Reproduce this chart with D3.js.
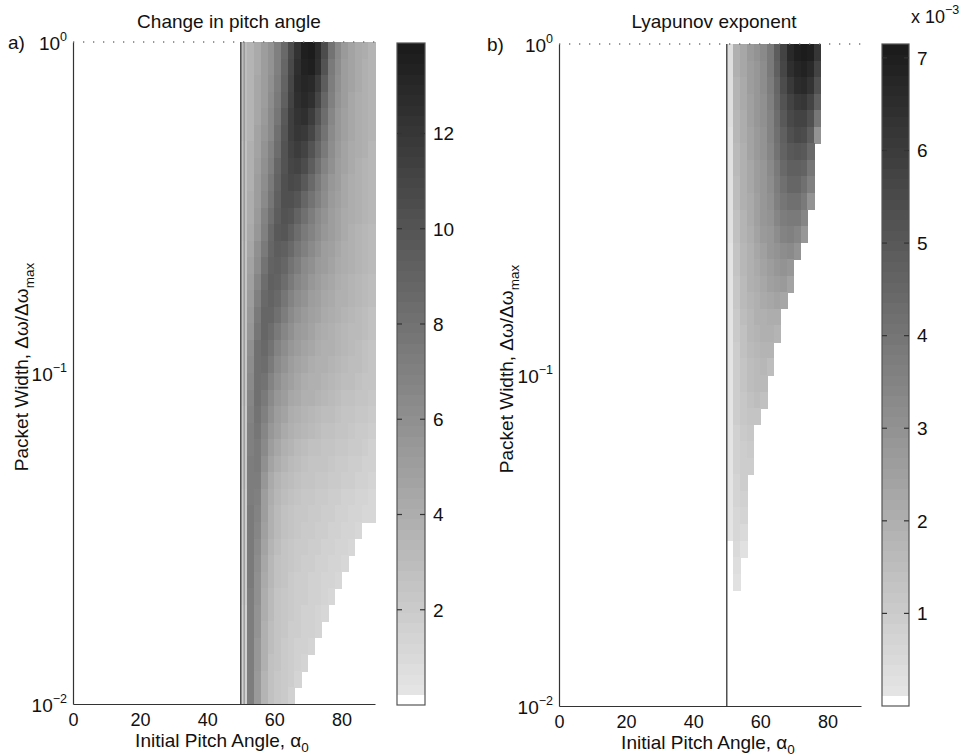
<!DOCTYPE html>
<html>
<head>
<meta charset="utf-8">
<script src="https://cdn.jsdelivr.net/npm/d3@7"></script>
<style>
  html, body { margin: 0; padding: 0; background: #fff; }
  svg { display: block; }
  text { font-family: "Liberation Sans", Arial, Helvetica, sans-serif; fill: #111; }
</style>
</head>
<body>
<svg id="fig" width="960" height="756"></svg>
<script>
// Bin edges: initial pitch angle (degrees) and packet width exponent (log10 of Δω/Δωmax)
const angleEdges = [50,52,54,56,58,60,62,64,66,68,70,72,74,76,78,80,82,84,86,88,90];
const widthExponents = [0,-0.05,-0.1,-0.15,-0.2,-0.25,-0.3,-0.35,-0.4,-0.45,-0.5,-0.55,-0.6,-0.65,-0.7,-0.75,
  -0.8,-0.85,-0.9,-0.95,-1.0,-1.05,-1.1,-1.15,-1.2,-1.25,-1.3,-1.35,-1.4,-1.45,-1.5,-1.55,-1.6,-1.65,-1.7,-1.75,
  -1.8,-1.85,-1.9,-1.95,-2.0];

// Change in pitch angle (degrees); rows run from Δω/Δωmax = 1 downward, columns follow angleEdges
const pitchChange = [
  [3.0,3.5,4.3,5.0,5.8,7.0,8.5,10.5,12.3,13.5,13.8,12.8,10.5,8.0,6.3,5.3,4.7,4.3,4.0,3.6],
  [3.0,3.5,4.3,5.0,5.8,7.1,8.7,10.7,12.4,13.4,13.6,12.4,10.0,7.6,6.1,5.2,4.6,4.2,3.9,3.6],
  [3.0,3.5,4.4,5.1,5.9,7.3,9.0,11.0,12.6,13.2,13.0,11.7,9.4,7.3,5.9,5.1,4.6,4.2,3.9,3.6],
  [2.9,3.5,4.4,5.2,6.1,7.5,9.3,11.2,12.5,12.9,12.4,11.0,8.9,7.0,5.8,5.0,4.5,4.1,3.8,3.5],
  [2.9,3.6,4.5,5.3,6.3,7.8,9.6,11.3,12.3,12.4,11.7,10.2,8.4,6.7,5.6,4.9,4.4,4.1,3.8,3.5],
  [2.9,3.6,4.6,5.5,6.5,8.1,9.9,11.3,12.0,11.9,11.0,9.5,7.9,6.5,5.5,4.8,4.4,4.0,3.7,3.5],
  [2.8,3.7,4.7,5.7,6.8,8.4,10.1,11.2,11.6,11.2,10.2,8.8,7.4,6.2,5.3,4.7,4.3,4.0,3.7,3.4],
  [2.8,3.8,4.9,5.9,7.1,8.7,10.2,11.0,11.1,10.5,9.4,8.1,6.9,5.9,5.1,4.6,4.2,3.9,3.6,3.4],
  [2.8,3.9,5.0,6.1,7.4,9.0,10.3,10.7,10.5,9.7,8.6,7.5,6.5,5.6,5.0,4.5,4.1,3.8,3.6,3.4],
  [2.7,4.0,5.2,6.4,7.8,9.3,10.3,10.4,9.8,8.9,7.9,7.0,6.1,5.4,4.8,4.4,4.0,3.8,3.5,3.3],
  [2.7,4.1,5.4,6.8,8.2,9.5,10.1,9.9,9.1,8.2,7.3,6.5,5.8,5.2,4.7,4.3,4.0,3.7,3.5,3.3],
  [2.7,4.2,5.6,7.1,8.6,9.6,9.8,9.3,8.4,7.5,6.8,6.1,5.5,5.0,4.6,4.2,3.9,3.6,3.4,3.2],
  [2.6,4.4,5.9,7.5,8.9,9.5,9.3,8.6,7.8,7.0,6.3,5.7,5.2,4.8,4.4,4.1,3.8,3.5,3.3,3.1],
  [2.6,4.6,6.2,7.9,9.1,9.3,8.8,8.0,7.2,6.5,5.9,5.4,5.0,4.6,4.3,4.0,3.7,3.5,3.3,3.1],
  [2.5,4.8,6.6,8.3,9.2,9.0,8.3,7.4,6.7,6.1,5.6,5.1,4.7,4.4,4.1,3.8,3.6,3.4,3.2,3.0],
  [2.5,5.0,7.0,8.6,9.1,8.6,7.7,6.9,6.2,5.7,5.2,4.8,4.5,4.2,3.9,3.7,3.5,3.3,3.1,2.9],
  [2.4,5.3,7.4,8.8,8.8,8.1,7.2,6.4,5.8,5.3,4.9,4.6,4.3,4.0,3.8,3.6,3.4,3.2,3.0,2.8],
  [2.4,5.6,7.8,8.8,8.4,7.5,6.6,5.9,5.4,5.0,4.6,4.3,4.1,3.8,3.6,3.4,3.2,3.1,2.9,2.7],
  [2.3,5.9,8.1,8.6,7.9,6.9,6.1,5.5,5.0,4.7,4.4,4.1,3.9,3.7,3.5,3.3,3.1,3.0,2.8,2.6],
  [2.3,6.2,8.2,8.3,7.4,6.4,5.7,5.1,4.7,4.4,4.1,3.9,3.7,3.5,3.3,3.2,3.0,2.9,2.7,2.5],
  [2.2,6.5,8.2,7.9,6.9,6.0,5.3,4.8,4.4,4.1,3.9,3.7,3.5,3.3,3.2,3.0,2.9,2.7,2.6,2.4],
  [2.2,6.7,8.1,7.5,6.4,5.6,5.0,4.5,4.2,3.9,3.7,3.5,3.3,3.1,3.0,2.8,2.7,2.5,2.4,2.2],
  [2.1,6.9,8.0,7.1,6.0,5.2,4.6,4.1,3.8,3.6,3.4,3.2,3.0,2.9,2.8,2.6,2.5,2.3,2.2,2.0],
  [2.1,7.0,7.8,6.7,5.5,4.8,4.2,3.8,3.5,3.3,3.1,2.9,2.8,2.7,2.5,2.4,2.3,2.1,2.0,1.9],
  [2.0,7.1,7.6,6.3,5.1,4.4,3.9,3.5,3.2,3.0,2.8,2.7,2.6,2.5,2.3,2.2,2.1,2.0,1.9,1.7],
  [2.0,7.2,7.4,5.9,4.7,4.0,3.5,3.2,2.9,2.7,2.6,2.5,2.4,2.3,2.1,2.0,1.9,1.8,1.7,1.6],
  [2.0,7.3,7.2,5.5,4.3,3.6,3.2,2.9,2.7,2.5,2.4,2.3,2.2,2.1,2.0,1.9,1.8,1.7,1.6,1.5],
  [1.9,7.3,7.0,5.2,4.1,3.4,3.0,2.7,2.5,2.3,2.2,2.1,2.0,1.9,1.8,1.7,1.6,1.5,1.4,1.3],
  [1.9,7.4,6.8,5.0,3.9,3.2,2.8,2.5,2.3,2.2,2.1,2.0,1.9,1.8,1.7,1.6,1.5,1.4,1.3,1.2],
  [1.9,7.4,6.6,4.8,3.7,3.1,2.7,2.4,2.2,2.1,2.0,1.9,1.8,1.7,1.6,1.5,1.4,1.3,0,0],
  [1.8,7.4,6.4,4.6,3.5,2.9,2.6,2.3,2.1,2.0,1.9,1.8,1.7,1.6,1.5,1.4,1.3,0,0,0],
  [1.8,7.4,6.2,4.4,3.4,2.8,2.5,2.2,2.0,1.9,1.8,1.7,1.6,1.5,1.4,1.3,0,0,0,0],
  [1.8,7.4,6.0,4.2,3.3,2.7,2.4,2.1,1.9,1.8,1.7,1.6,1.5,1.4,1.3,0,0,0,0,0],
  [1.8,7.3,5.9,4.1,3.2,2.6,2.3,2.0,1.9,1.8,1.7,1.6,1.5,1.3,0,0,0,0,0,0],
  [1.7,7.3,5.8,4.0,3.1,2.5,2.2,2.0,1.8,1.7,1.6,1.5,1.3,0,0,0,0,0,0,0],
  [1.7,7.3,5.7,3.9,3.0,2.5,2.2,1.9,1.8,1.7,1.6,1.4,0,0,0,0,0,0,0,0],
  [1.7,7.2,5.6,3.8,2.9,2.4,2.1,1.9,1.7,1.6,1.4,0,0,0,0,0,0,0,0,0],
  [1.7,7.2,5.5,3.7,2.8,2.4,2.1,1.8,1.7,1.4,0,0,0,0,0,0,0,0,0,0],
  [1.7,7.2,5.4,3.6,2.8,2.3,2.0,1.8,1.5,0,0,0,0,0,0,0,0,0,0,0],
  [1.7,7.2,5.4,3.6,2.7,2.3,2.0,1.6,0,0,0,0,0,0,0,0,0,0,0,0]
];

// Lyapunov exponent (×10⁻³), same bins; columns beyond the listed entries are zero
const lyapunov = [
  [0.4,1.9,2.3,2.7,3.0,3.3,3.9,4.9,5.8,6.7,7.0,7.1,7.0,6.2],
  [0.4,1.9,2.3,2.6,2.9,3.2,3.8,4.7,5.6,6.4,6.8,6.9,6.7,5.8],
  [0.4,1.8,2.2,2.6,2.9,3.2,3.7,4.5,5.4,6.1,6.5,6.6,6.3,5.3],
  [0.4,1.8,2.2,2.5,2.8,3.1,3.6,4.4,5.2,5.8,6.1,6.2,5.8,4.7],
  [0.4,1.7,2.1,2.5,2.8,3.1,3.5,4.3,5.0,5.5,5.8,5.8,5.3,4.0],
  [0.3,1.7,2.1,2.4,2.7,3.0,3.5,4.2,4.8,5.3,5.5,5.4,4.9,3.0],
  [0.3,1.6,2.0,2.4,2.7,3.0,3.4,4.1,4.6,5.0,5.1,5.0,4.4],
  [0.3,1.6,2.0,2.3,2.6,2.9,3.3,3.9,4.4,4.8,4.8,4.6,4.0],
  [0.3,1.5,1.9,2.3,2.6,2.9,3.2,3.7,4.2,4.5,4.5,4.2,3.6],
  [0.3,1.5,1.9,2.2,2.5,2.8,3.1,3.6,4.0,4.2,4.2,3.9,3.0],
  [0.3,1.4,1.8,2.2,2.5,2.8,3.0,3.4,3.7,3.9,3.8,3.4],
  [0.3,1.4,1.8,2.1,2.4,2.7,2.9,3.2,3.5,3.6,3.4,2.8],
  [0.2,1.3,1.7,2.0,2.3,2.5,2.8,3.0,3.2,3.3,3.0],
  [0.2,1.3,1.7,2.0,2.2,2.4,2.6,2.8,3.0,2.9],
  [0.2,1.2,1.6,1.9,2.1,2.3,2.5,2.6,2.7,2.4],
  [0.2,1.2,1.6,1.8,2.0,2.2,2.3,2.4,2.3],
  [0.2,1.1,1.5,1.7,1.9,2.0,2.1,2.1],
  [0.2,1.1,1.4,1.7,1.8,1.9,2.0,1.8],
  [0.2,1.0,1.4,1.6,1.7,1.8,1.8],
  [0.2,1.0,1.3,1.5,1.6,1.7,1.5],
  [0.2,0.9,1.3,1.5,1.6,1.6],
  [0.2,0.9,1.2,1.4,1.5,1.4],
  [0.2,0.9,1.2,1.3,1.3],
  [0.2,0.8,1.1,1.2],
  [0.2,0.8,1.0,1.1],
  [0.2,0.8,1.0,0.9],
  [0.2,0.7,0.9],
  [0.2,0.7,0.8],
  [0.2,0.6,0.7],
  [0.2,0.6,0.5],
  [0,0.5,0.3],
  [0,0.4],
  [0,0.3],
  [], [], [], [], [], [], []
];

// Axis ticks and colour-bar ranges
const angleTicks = [0, 20, 40, 60, 80];
const widthTicks = [0.01, 0.1, 1];
const pitchBarTicks = [2, 4, 6, 8, 10, 12];
const lyapBarTicks = [1, 2, 3, 4, 5, 6, 7];
const pitchRange = [0, 13.9];
const lyapRange = [0, 7.15];
const boundaryA = [50, 51];
const boundaryB = [50];

const svg = d3.select("#fig");

// 64-level inverted gray map; the lowest level is pure white
const LEVELS = 64;
const ramp = d3.interpolateRgb("#e4e4e4", "#1c1c1c");
function grayMap(range) {
  const q = d3.scaleLinear().domain(range).range([0, LEVELS]).clamp(true);
  return v => {
    const k = Math.min(LEVELS - 1, Math.floor(q(v)));
    return k <= 0 ? "#ffffff" : ramp((k - 1) / (LEVELS - 2));
  };
}

function supText(sel, base, sup, supDy) {
  sel.append("tspan").text(base);
  sel.append("tspan").attr("dy", supDy).attr("font-size", 12.5).text(sup);
}

function panel(opt) {
  const g = svg.append("g");
  const x = d3.scaleLinear().domain([0, 90]).range([opt.left, opt.right]);
  const y = d3.scaleLog().domain([0.01, 1]).range([opt.bottom, opt.top]);
  const color = grayMap(opt.range);
  const yEdge = i => y(Math.pow(10, widthExponents[i]));

  // heat map cells (white cells are left undrawn)
  const cells = [];
  opt.values.forEach((row, i) => row.forEach((v, j) => { if (color(v) !== "#ffffff") cells.push({i, j, v}); }));
  g.append("g").attr("shape-rendering", "crispEdges")
    .selectAll("rect").data(cells).join("rect")
    .attr("x", d => x(angleEdges[d.j]))
    .attr("width", d => x(angleEdges[d.j + 1]) - x(angleEdges[d.j]) + 0.6)
    .attr("y", d => yEdge(d.i))
    .attr("height", d => yEdge(d.i + 1) - yEdge(d.i) + 0.6)
    .attr("fill", d => color(d.v));

  // boundary lines at the loss-cone edge
  g.selectAll("line.edge").data(opt.boundary).join("line")
    .attr("class", "edge")
    .attr("x1", d => x(d)).attr("x2", d => x(d))
    .attr("y1", opt.top).attr("y2", opt.bottom)
    .attr("stroke", (d, i) => i === 0 ? "#444" : "#8a8a8a")
    .attr("stroke-width", (d, i) => i === 0 ? 1.4 : 1.1);

  // dotted upper frame
  g.append("line")
    .attr("x1", opt.left).attr("x2", opt.right)
    .attr("y1", opt.top).attr("y2", opt.top)
    .attr("stroke", "#777").attr("stroke-width", 1.3)
    .attr("stroke-dasharray", "1.3,8.7");

  // x axis
  const xa = g.append("g").attr("transform", `translate(0,${opt.bottom})`)
    .call(d3.axisBottom(x).tickValues(angleTicks).tickSize(0).tickSizeOuter(0).tickPadding(9));
  xa.select(".domain").attr("stroke", "#333").attr("stroke-width", 1.2);
  xa.selectAll(".tick text").attr("font-size", 18)
    .attr("font-family", "Liberation Sans, Arial, sans-serif").attr("fill", "#111");

  // y axis (log)
  const ya = g.append("g").attr("transform", `translate(${opt.left},0)`)
    .call(d3.axisLeft(y).tickValues(widthTicks).tickSize(0).tickSizeOuter(0).tickFormat(""));
  ya.select(".domain").attr("stroke", "#333").attr("stroke-width", 1.2);
  ya.selectAll(".tick").each(function(d) {
    const t = d3.select(this).append("text")
      .attr("x", -6).attr("dy", "0.4em")
      .attr("text-anchor", "end").attr("font-size", 19);
    const e = Math.round(Math.log10(d));
    supText(t, "10", e === 0 ? "0" : "\u2212" + Math.abs(e), -9);
  });

  // panel letter
  svg.append("text").attr("x", opt.letterX).attr("y", opt.top + 7)
    .attr("font-size", 19).text(opt.letter);

  // title
  svg.append("text").attr("x", opt.titleX).attr("y", 28)
    .attr("text-anchor", "middle").attr("font-size", 19).text(opt.title);

  // x label
  const xl = svg.append("text").attr("x", (opt.left + opt.right) / 2 - 2).attr("y", opt.bottom + 42.5)
    .attr("text-anchor", "middle").attr("font-size", 19);
  xl.append("tspan").text("Initial Pitch Angle, \u03b1");
  xl.append("tspan").attr("dy", 5).attr("font-size", 13.5).text("0");

  // y label
  const yl = svg.append("text")
    .attr("transform", `translate(${opt.ylabelX},${opt.ylabelY}) rotate(-90)`)
    .attr("text-anchor", "middle").attr("font-size", 19);
  yl.append("tspan").text("Packet Width, \u0394\u03c9/\u0394\u03c9");
  yl.append("tspan").attr("dy", 6).attr("font-size", 13.5).text("max");

  // colour bar
  const cb = opt.bar;
  const cy = d3.scaleLinear().domain(opt.range).range([cb.bottom, cb.top]);
  const step = (opt.range[1] - opt.range[0]) / LEVELS;
  const levels = d3.range(LEVELS).map(k => opt.range[0] + k * step);
  const bg = svg.append("g");
  bg.append("g").attr("shape-rendering", "crispEdges")
    .selectAll("rect").data(levels).join("rect")
    .attr("x", cb.left).attr("width", cb.right - cb.left)
    .attr("y", d => cy(d + step))
    .attr("height", d => cy(d) - cy(d + step) + 0.6)
    .attr("fill", d => color(d + step / 2));
  bg.append("rect").attr("x", cb.left).attr("y", cb.top)
    .attr("width", cb.right - cb.left).attr("height", cb.bottom - cb.top)
    .attr("fill", "none").attr("stroke", "#555").attr("stroke-width", 1.2);
  const ticks = bg.selectAll("g.cbt").data(opt.barTicks).join("g").attr("class", "cbt")
    .attr("transform", d => `translate(0,${cy(d)})`);
  ticks.append("line").attr("x1", cb.left).attr("x2", cb.left + 5).attr("stroke", "#333").attr("stroke-width", 1.2);
  ticks.append("line").attr("x1", cb.right - 5).attr("x2", cb.right).attr("stroke", "#333").attr("stroke-width", 1.2);
  ticks.append("text").attr("x", cb.right + 8).attr("dy", "0.36em")
    .attr("font-size", 19).text(d => d);
  if (opt.barExp) {
    const t = svg.append("text").attr("x", cb.right + 2).attr("y", 23).attr("font-size", 18);
    supText(t, "x 10", "\u22123", -9);
  }
}

panel({
  left: 73, right: 375, top: 42, bottom: 704,
  values: pitchChange, range: pitchRange, boundary: boundaryA,
  letter: "a)", letterX: 8, titleX: 229, ylabelX: 28, ylabelY: 367,
  title: "Change in pitch angle",
  bar: {left: 397, right: 425, top: 43, bottom: 705},
  barTicks: pitchBarTicks, barExp: false
});

panel({
  left: 559, right: 861, top: 44, bottom: 706,
  values: lyapunov, range: lyapRange, boundary: boundaryB,
  letter: "b)", letterX: 487, titleX: 714, ylabelX: 513, ylabelY: 369,
  title: "Lyapunov exponent",
  bar: {left: 882, right: 909, top: 44, bottom: 706},
  barTicks: lyapBarTicks, barExp: true
});
</script>
</body>
</html>
